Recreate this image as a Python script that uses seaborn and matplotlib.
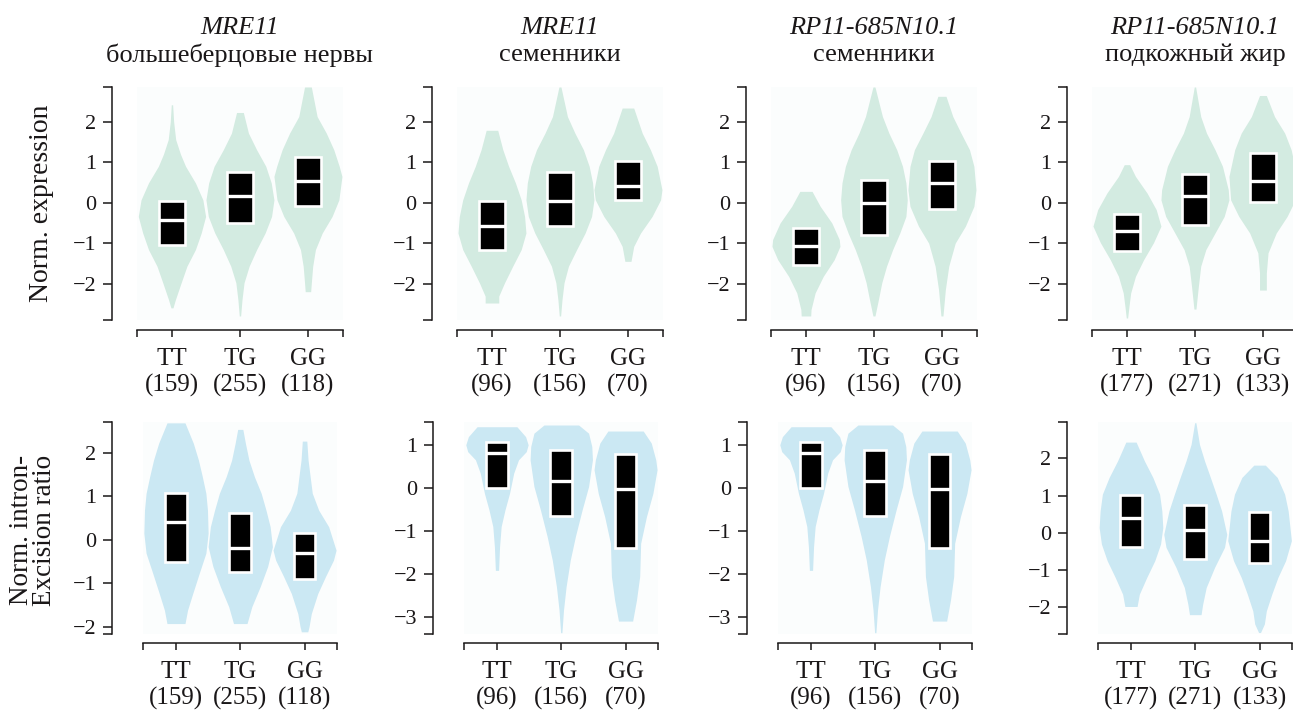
import matplotlib
matplotlib.use("Agg")
import matplotlib.pyplot as plt
import seaborn as sns

# ---------------- data ----------------
genotypes = ["TT", "TG", "GG"]
genes = ["MRE11", "MRE11", "RP11-685N10.1", "RP11-685N10.1"]
tissues = ["большеберцовые нервы", "семенники", "семенники", "подкожный жир"]
counts = [[159, 255, 118], [96, 156, 70], [96, 156, 70], [177, 271, 133]]

# violin profiles: y levels and relative width (1 = full slot) per genotype
# --- top row: Norm. expression ---
expr1_y = [[2.42, 2.0, 1.56, 1.2, 0.9, 0.49, 0.07, -0.34, -0.75, -1.16, -1.57, -1.98, -2.4, -2.6],
           [2.23, 1.72, 1.31, 0.9, 0.49, 0.07, -0.34, -0.75, -1.16, -1.57, -1.98, -2.4, -2.8],
           [2.86, 2.13, 1.72, 1.31, 0.9, 0.65, 0.07, -0.34, -0.75, -1.16, -1.57, -1.98, -2.2]]
expr1_w = [[0.02, 0.05, 0.11, 0.25, 0.4, 0.69, 0.91, 0.99, 0.86, 0.69, 0.44, 0.27, 0.1, 0.03],
           [0.1, 0.25, 0.49, 0.76, 0.92, 1.0, 0.93, 0.74, 0.49, 0.27, 0.12, 0.06, 0.02],
           [0.1, 0.27, 0.54, 0.76, 0.92, 1.0, 0.91, 0.71, 0.42, 0.22, 0.14, 0.1, 0.08]]
expr1_q3 = [0.03, 0.76, 1.12]
expr1_med = [-0.44, 0.16, 0.53]
expr1_q1 = [-1.05, -0.5, -0.07]

expr2_y = [[1.79, 1.31, 0.9, 0.49, 0.07, -0.34, -0.75, -1.16, -1.57, -1.98, -2.31, -2.48],
           [2.86, 2.13, 1.72, 1.31, 0.9, 0.49, 0.07, -0.34, -0.75, -1.16, -1.57, -1.98, -2.4, -2.8],
           [2.34, 1.72, 1.31, 0.9, 0.32, 0.07, -0.34, -0.75, -1.08, -1.45]]
expr2_w = [[0.17, 0.32, 0.49, 0.69, 0.86, 0.96, 1.0, 0.86, 0.61, 0.37, 0.2, 0.2],
           [0.03, 0.22, 0.44, 0.69, 0.86, 0.96, 1.0, 0.93, 0.74, 0.49, 0.25, 0.12, 0.06, 0.02],
           [0.17, 0.42, 0.66, 0.86, 1.0, 0.96, 0.71, 0.37, 0.17, 0.09]]
expr2_q3 = [0.05, 0.76, 1.04]
expr2_med = [-0.58, 0.03, 0.42]
expr2_q1 = [-1.18, -0.58, 0.06]

expr3_y = [[0.28, -0.09, -0.5, -0.91, -1.08, -1.41, -1.82, -2.23, -2.64, -2.8],
           [2.86, 2.13, 1.72, 1.31, 0.9, 0.49, 0.07, -0.34, -0.75, -1.16, -1.57, -1.98, -2.4, -2.8],
           [2.63, 2.13, 1.72, 1.31, 0.9, 0.32, -0.09, -0.58, -1.0, -1.57, -2.15, -2.8]]
expr3_w = [[0.18, 0.42, 0.76, 0.98, 1.0, 0.83, 0.51, 0.27, 0.15, 0.14],
           [0.03, 0.25, 0.44, 0.67, 0.84, 0.94, 0.98, 0.94, 0.76, 0.55, 0.37, 0.23, 0.13, 0.03],
           [0.12, 0.32, 0.56, 0.81, 0.94, 1.0, 0.94, 0.69, 0.39, 0.2, 0.1, 0.03]]
expr3_q3 = [-0.63, 0.57, 1.02]
expr3_med = [-1.08, 0.0, 0.49]
expr3_q1 = [-1.53, -0.79, -0.16]

expr4_y = [[0.94, 0.65, 0.24, -0.17, -0.58, -0.99, -1.41, -1.82, -2.23, -2.56, -2.85],
           [2.86, 2.13, 1.72, 1.31, 0.9, 0.32, 0.07, -0.34, -0.75, -1.16, -1.57, -2.07, -2.63],
           [2.65, 2.13, 1.72, 1.31, 0.65, 0.07, -0.34, -0.75, -1.24, -1.74, -2.16]]
expr4_w = [[0.08, 0.25, 0.59, 0.86, 1.0, 0.78, 0.49, 0.25, 0.11, 0.06, 0.02],
           [0.02, 0.17, 0.34, 0.59, 0.81, 0.98, 1.0, 0.86, 0.59, 0.32, 0.17, 0.1, 0.03],
           [0.1, 0.34, 0.64, 0.83, 1.0, 0.95, 0.71, 0.39, 0.15, 0.1, 0.1]]
expr4_q3 = [-0.28, 0.71, 1.24]
expr4_med = [-0.69, 0.16, 0.54]
expr4_q1 = [-1.2, -0.54, 0.01]

# --- bottom row: Norm. intron-excision ratio ---
intr1_y = [[2.69, 2.22, 1.83, 1.45, 1.07, 0.68, 0.15, -0.31, -0.78, -1.24, -1.62, -1.93],
           [2.54, 2.22, 1.83, 1.45, 1.07, 0.68, 0.3, -0.16, -0.62, -1.08, -1.54, -1.93],
           [2.27, 1.83, 1.07, 0.68, 0.3, -0.24, -0.47, -0.85, -1.24, -1.7, -2.0, -2.12]]
intr1_w = [[0.28, 0.54, 0.7, 0.82, 0.93, 0.98, 1.0, 0.93, 0.72, 0.52, 0.36, 0.28],
           [0.08, 0.16, 0.27, 0.44, 0.65, 0.8, 0.93, 1.0, 0.85, 0.62, 0.36, 0.21],
           [0.07, 0.11, 0.24, 0.44, 0.75, 0.98, 0.9, 0.65, 0.41, 0.21, 0.14, 0.1]]
intr1_q3 = [1.07, 0.62, 0.16]
intr1_med = [0.4, -0.2, -0.3]
intr1_q1 = [-0.51, -0.74, -0.91]

intr2_y = [[1.43, 1.2, 1.01, 0.85, 0.66, 0.35, -0.12, -0.5, -0.89, -1.36, -1.91],
           [1.47, 1.28, 0.97, 0.66, 0.04, -0.5, -1.12, -1.67, -2.29, -2.83, -3.36],
           [1.33, 1.05, 0.66, 0.43, -0.12, -0.66, -1.28, -2.05, -2.6, -3.09]]
intr2_w = [[0.62, 0.89, 0.97, 0.91, 0.67, 0.52, 0.39, 0.25, 0.13, 0.08, 0.05],
           [0.54, 0.85, 0.95, 0.97, 0.85, 0.65, 0.44, 0.28, 0.15, 0.07, 0.02],
           [0.55, 0.8, 0.94, 0.98, 0.85, 0.65, 0.47, 0.44, 0.34, 0.22]]
intr2_q3 = [1.07, 0.89, 0.79]
intr2_med = [0.81, 0.16, -0.02]
intr2_q1 = [0.0, -0.64, -1.4]

intr3_y = intr2_y
intr3_w = intr2_w
intr3_q3 = intr2_q3
intr3_med = intr2_med
intr3_q1 = intr2_q1

intr4_y = [[2.44, 1.93, 1.49, 1.04, 0.59, 0.14, -0.3, -0.75, -1.2, -1.65, -1.98],
           [2.96, 2.38, 1.93, 1.49, 1.04, 0.59, -0.04, -0.39, -0.93, -1.47, -1.92, -2.2],
           [1.82, 1.49, 1.04, 0.59, -0.21, -0.75, -1.2, -1.65, -2.1, -2.45, -2.68]]
intr4_w = [[0.16, 0.42, 0.68, 0.89, 0.96, 0.99, 0.92, 0.74, 0.49, 0.26, 0.19],
           [0.02, 0.13, 0.29, 0.47, 0.65, 0.82, 0.98, 0.91, 0.6, 0.34, 0.23, 0.18],
           [0.18, 0.55, 0.78, 0.89, 0.99, 0.81, 0.57, 0.38, 0.21, 0.15, 0.03]]
intr4_q3 = [1.01, 0.74, 0.55]
intr4_med = [0.41, 0.07, -0.21]
intr4_q1 = [-0.39, -0.71, -0.8]

top_ylims = [(-2.9, 2.86)] * 4
top_yticks = [-2, -1, 0, 1, 2]
bot_ylims = [(-2.17, 2.71), (-3.39, 1.54), (-3.39, 1.54), (-2.72, 2.98)]
bot_yticks = [[-2, -1, 0, 1, 2], [-3, -2, -1, 0, 1], [-3, -2, -1, 0, 1], [-2, -1, 0, 1, 2]]

# ---------------- style ----------------
sns.set_style("ticks")
plt.rcParams["font.family"] = ["Liberation Serif", "DejaVu Serif"]
INK = "#1a1718"
GREEN = "#d3ebe1"
BLUE = "#cbe8f3"
BG = "#fbfdfd"

W, H = 1293, 711
fig = plt.figure(figsize=(W / 100, H / 100), dpi=100)
fig.patch.set_facecolor("white")


def px_axes(left, width, top, height):
    return fig.add_axes([left / W, 1 - (top + height) / H, width / W, height / H])


def draw_panel(ax, ys, ws, q1, med, q3, color, ylim, yticks, cnt, xlim, boxw,
               left_off, bot_off):
    ax.set_facecolor(BG)
    for i in range(3):
        y = ys[i]
        half = [w / 2 for w in ws[i]]
        ax.fill_betweenx(y, [i - h for h in half], [i + h for h in half],
                         color=color, lw=0, zorder=1)
    heights = [b - a for a, b in zip(q1, q3)]
    ax.bar(range(3), heights, bottom=q1, width=boxw, color="black",
           edgecolor="white", linewidth=1.9, zorder=3)
    ax.hlines(med, [i - boxw / 2 for i in range(3)], [i + boxw / 2 for i in range(3)],
              color="white", lw=2.4, zorder=4)
    ax.set_xlim(*xlim)
    ax.set_ylim(*ylim)
    ax.set_yticks(yticks)
    ax.set_yticklabels(["\u2212%d" % -t if t < 0 else "%d" % t for t in yticks])
    ax.set_yticks(list(ylim), minor=True)
    ax.set_xticks([0, 1, 2])
    ax.set_xticklabels(["%s\n(%d)" % (g, c) for g, c in zip(genotypes, cnt)],
                       linespacing=0.95)
    ax.set_xticks(list(xlim), minor=True)
    sns.despine(ax=ax, offset={"left": left_off, "bottom": bot_off})
    for s in ("left", "bottom"):
        ax.spines[s].set_color(INK)
        ax.spines[s].set_linewidth(1.1)
    ax.tick_params(axis="y", which="both", length=6.5, width=1.1, color=INK,
                   labelsize=16, pad=5, labelcolor=INK)
    ax.tick_params(axis="x", which="both", length=5, width=1.1, color=INK,
                   labelsize=18, pad=8, labelcolor=INK)


top_left = [136.6, 456.6, 770.6, 1091.6]
bot_left = [143.2, 464.2, 778.2, 1098.2]
top_data = [(expr1_y, expr1_w, expr1_q1, expr1_med, expr1_q3),
            (expr2_y, expr2_w, expr2_q1, expr2_med, expr2_q3),
            (expr3_y, expr3_w, expr3_q1, expr3_med, expr3_q3),
            (expr4_y, expr4_w, expr4_q1, expr4_med, expr4_q3)]
bot_data = [(intr1_y, intr1_w, intr1_q1, intr1_med, intr1_q3),
            (intr2_y, intr2_w, intr2_q1, intr2_med, intr2_q3),
            (intr3_y, intr3_w, intr3_q1, intr3_med, intr3_q3),
            (intr4_y, intr4_w, intr4_q1, intr4_med, intr4_q3)]

for k in range(4):
    ax = px_axes(top_left[k], 206.7, 87, 233)
    ys, ws, q1, med, q3 = top_data[k]
    draw_panel(ax, ys, ws, q1, med, q3, GREEN, top_ylims[k], top_yticks, counts[k],
               (-0.52, 2.52), 0.37, 17.7, 7.2)
    cx = (top_left[k] + 206.7 / 2) / W
    fig.text(cx, 1 - 28 / H, genes[k], ha="center", va="center", fontsize=19,
             style="italic", color=INK)
    fig.text(cx, 1 - 55 / H, tissues[k], ha="center", va="center", fontsize=19,
             color=INK)

for k in range(4):
    ax = px_axes(bot_left[k], 193.5, 422, 212)
    ys, ws, q1, med, q3 = bot_data[k]
    draw_panel(ax, ys, ws, q1, med, q3, BLUE, bot_ylims[k], bot_yticks[k], counts[k],
               (-0.51, 2.5), 0.34, 22.4, 6.5)

fig.text(42 / W, 1 - 203 / H, "Norm. expression", rotation=90, ha="center",
         va="center", fontsize=20, color=INK)
fig.text(33 / W, 1 - 530 / H, "Norm. intron-\nExcision ratio", rotation=90,
         ha="center", va="center", fontsize=19.5, color=INK, linespacing=0.92,
         multialignment="center")

fig.savefig("out.png", dpi=100)
